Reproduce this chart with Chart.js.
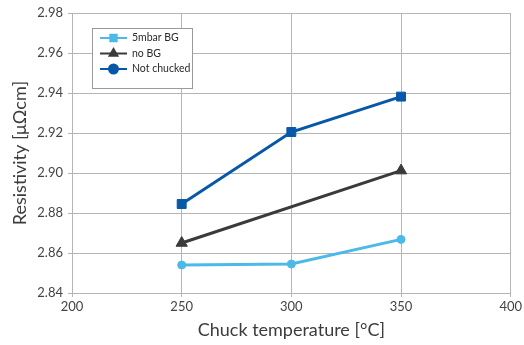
<!DOCTYPE html>
<html>
<head>
<meta charset="utf-8">
<script src="https://cdn.jsdelivr.net/npm/chart.js@4"></script>
<style>
  html, body { margin: 0; padding: 0; background: #fff; }
  #wrap { width: 524px; height: 345px; }
</style>
</head>
<body>
<div id="wrap"><canvas id="chart" width="524" height="345"></canvas></div>
<script>
const labels = ['5mbar BG', 'no BG', 'Not chucked'];
const xTicks = [200, 250, 300, 350, 400];
const yTicks = [2.84, 2.86, 2.88, 2.90, 2.92, 2.94, 2.96, 2.98];

const bgTemps = [250, 300, 350];
const bgValues = [2.854, 2.8545, 2.8668];
const noBgTemps = [250, 350];
const noBgValues = [2.865, 2.9012];
const notChuckedTemps = [250, 300, 350];
const notChuckedValues = [2.8845, 2.9205, 2.9382];

// markers as they appear in the legend box (not the same as on the lines)
const legendMarkers = ['rect', 'triangle', 'circle'];

const lightBlue = '#4cb9e8';
const darkGray = '#3a3a3a';
const darkBlue = '#0758a8';

const toPoints = (xs, ys) => xs.map((x, i) => ({ x, y: ys[i] }));

const legendBox = {
	id: 'legendBox',
	afterDatasetsDraw: (chart) => {
		let ctx = chart.ctx;
		let left = 92, top = 28, w = 100, h = 60;
		ctx.save();
		ctx.fillStyle = '#fff';
		ctx.strokeStyle = '#9a9a9a';
		ctx.lineWidth = 1;
		ctx.fillRect(left, top, w, h);
		ctx.strokeRect(left + 0.5, top + 0.5, w, h);
		ctx.font = '10.5px Lato, "Open Sans", sans-serif';
		ctx.textBaseline = 'middle';
		let colors = [lightBlue, darkGray, darkBlue];
		for (let i = 0; i < labels.length; i++) {
			let y = top + 10 + i * 15.5;
			ctx.strokeStyle = colors[i];
			ctx.lineWidth = 2;
			ctx.beginPath();
			ctx.moveTo(left + 8, y);
			ctx.lineTo(left + 35, y);
			ctx.stroke();
			ctx.fillStyle = colors[i];
			Chart.helpers.drawPoint(ctx, { pointStyle: legendMarkers[i], radius: 4.5, borderWidth: 1 }, left + 21.5, y);
			ctx.fill();
			ctx.fillStyle = '#2a2a2a';
			ctx.fillText(labels[i], left + 40, y);
		}
		ctx.restore();
	},
};

let ctx = document.getElementById('chart').getContext('2d');
let chart = new Chart(ctx, {
	type: 'line',
	data: {
		datasets: [{
			label: labels[0],
			data: toPoints(bgTemps, bgValues),
			borderColor: lightBlue,
			backgroundColor: lightBlue,
			pointStyle: 'circle',
			pointRadius: 4,
			pointBorderWidth: 1,
			borderWidth: 3,
		}, {
			label: labels[1],
			data: toPoints(noBgTemps, noBgValues),
			borderColor: darkGray,
			backgroundColor: darkGray,
			pointStyle: 'triangle',
			pointRadius: 6.5,
			pointBorderWidth: 1,
			borderWidth: 3,
		}, {
			label: labels[2],
			data: toPoints(notChuckedTemps, notChuckedValues),
			borderColor: darkBlue,
			backgroundColor: darkBlue,
			pointStyle: 'rect',
			pointRadius: 6.3,
			pointBorderWidth: 1,
			borderWidth: 3,
		}],
	},
	options: {
		responsive: false,
		animation: false,
		layout: { padding: { top: 13, right: 13, left: 0, bottom: 0 } },
		plugins: {
			legend: { display: false },
			tooltip: { enabled: false },
		},
		scales: {
			x: {
				type: 'linear',
				min: 200,
				max: 400,
				afterBuildTicks: (axis) => { axis.ticks = xTicks.map(v => ({ value: v })); },
				afterFit: (axis) => { axis.height = 52; },
				grid: { color: '#b5b5b5', tickLength: 4 },
				border: { color: '#b5b5b5' },
				ticks: { color: '#444', font: { family: 'Lato', size: 13 }, padding: 2 },
				title: {
					display: true,
					text: 'Chuck temperature [°C]',
					color: '#3c3c3c',
					font: { family: 'Lato', size: 18 },
					padding: { top: 2 },
				},
			},
			y: {
				min: 2.84,
				max: 2.98,
				afterBuildTicks: (axis) => { axis.ticks = yTicks.map(v => ({ value: v })); },
				afterFit: (axis) => { axis.width = 72; },
				grid: { color: '#b5b5b5', tickLength: 4 },
				border: { color: '#b5b5b5' },
				ticks: { color: '#444', font: { family: 'Lato', size: 13 }, padding: 5 },
				title: {
					display: true,
					text: 'Resistivity [μΩcm]',
					color: '#3c3c3c',
					font: { family: 'Lato', size: 18 },
					padding: { top: 9, bottom: 0 },
				},
			},
		},
	},
	plugins: [legendBox],
});
</script>
</body>
</html>
